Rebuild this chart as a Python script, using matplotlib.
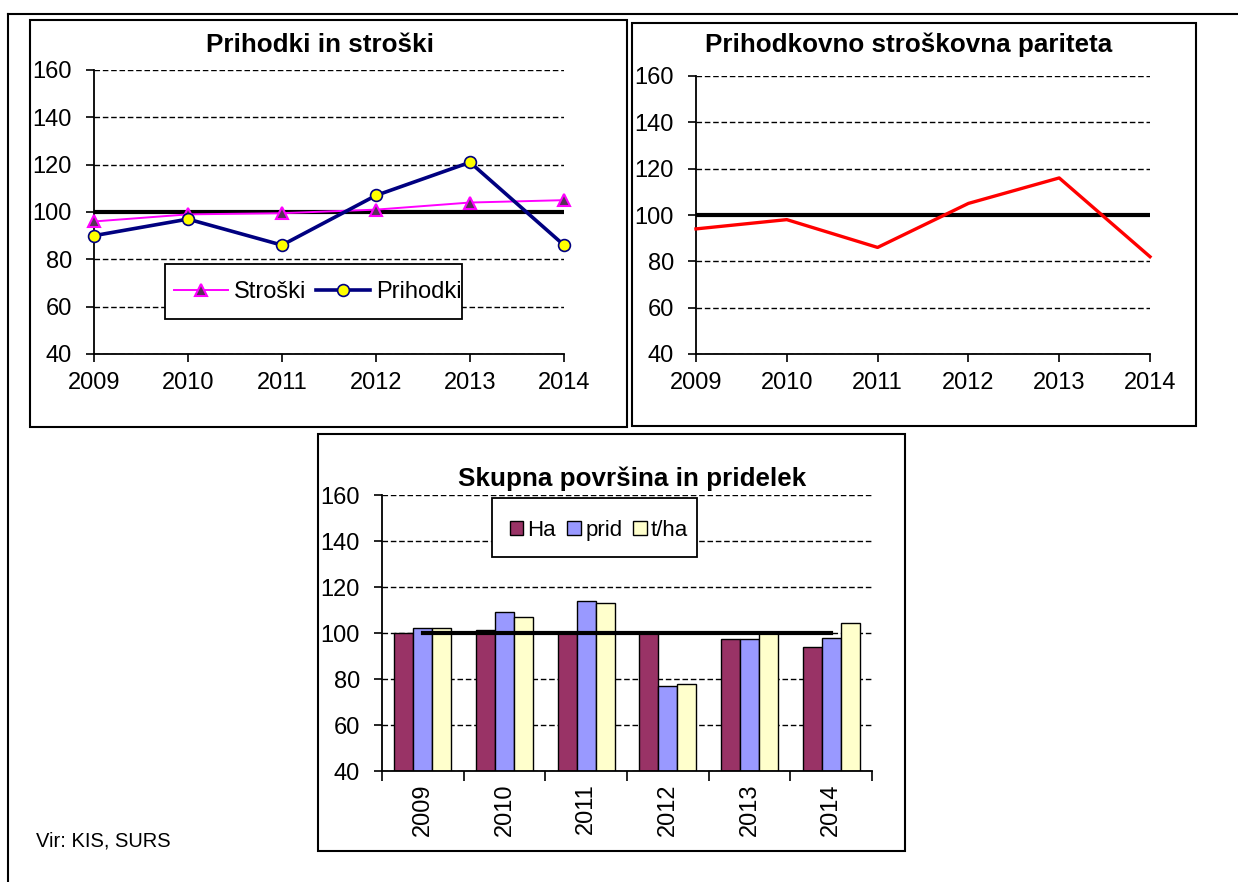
import matplotlib
matplotlib.use('Agg')
import matplotlib.pyplot as plt
from matplotlib.patches import Rectangle
from matplotlib.lines import Line2D
import numpy as np

plt.rcParams['font.family'] = ['Liberation Sans', 'DejaVu Sans']

# data
years = [2009, 2010, 2011, 2012, 2013, 2014]
stroski = [96, 99, 99.5, 101, 104, 105]
prihodki = [90, 97, 86, 107, 121, 86]
pariteta = [94, 98, 86, 105, 116, 82]
ha = [100, 101.5, 100.5, 100, 97.5, 94]
prid = [102, 109, 114, 77, 97.5, 98]
t_ha = [102, 107, 113, 78, 100, 104.5]
base = [100] * len(years)

W, H = 1238, 882
fig = plt.figure(figsize=(W / 100, H / 100), dpi=100)


def box(l, t, r, b):
    # pixel box -> figure fraction [left, bottom, width, height]
    return [l / W, 1 - b / H, (r - l) / W, (b - t) / H]


def frame(l, t, r, b, lw=1.5):
    x0, y0, w, h = box(l, t, r, b)
    fig.add_artist(Rectangle((x0, y0), w, h, transform=fig.transFigure,
                             fill=False, ec='black', lw=lw))


def style(ax):
    ax.set_ylim(40, 160)
    ax.set_yticks(range(40, 161, 20))
    for s in ['top', 'right']:
        ax.spines[s].set_visible(False)
    ax.spines['left'].set_linewidth(1.3)
    ax.spines['bottom'].set_linewidth(1.3)
    ax.yaxis.grid(True, color='black', linestyle=(0, (4, 2)), linewidth=1.0)
    ax.set_axisbelow(True)
    ax.tick_params(axis='y', length=6, width=1.2, pad=10, labelsize=17)
    ax.tick_params(axis='x', length=6, width=1.2, pad=7, labelsize=17)
    ax.patch.set_alpha(0)


def legend_box(ax, x0, y0, w, h):
    ax.add_patch(Rectangle((x0, y0), w, h, transform=ax.transAxes, fc='white',
                           ec='black', lw=1.3, zorder=4.9, clip_on=False))


# outer frame (top and left only)
fig.add_artist(Line2D([8 / W, 1], [1 - 14 / H, 1 - 14 / H], transform=fig.transFigure,
                      color='black', lw=1.5))
fig.add_artist(Line2D([8 / W, 8 / W], [0, 1 - 14 / H], transform=fig.transFigure,
                      color='black', lw=1.5))

frame(30, 20, 627, 427)
frame(632, 23, 1196, 426)
frame(318, 434, 905, 851)

# --- Prihodki in stroški ---
ax1 = fig.add_axes(box(94, 70, 564, 354))
style(ax1)
ax1.set_xlim(2009, 2014)
ax1.set_xticks(years)
ax1.plot(years, base, color='black', lw=3, zorder=2)
ax1.plot(years, stroski, color='#FF00FF', lw=1.4, marker='^', ms=9,
         mfc='#553355', mec='#FF00FF', mew=1.5, label='Stroški', zorder=3, clip_on=False)
ax1.plot(years, prihodki, color='#000080', lw=2.6, marker='o', ms=8.5,
         mfc='#FFFF00', mec='#000080', mew=1.2, label='Prihodki', zorder=4, clip_on=False)
legend_box(ax1, 0.151, 0.123, 0.632, 0.194)
ax1.legend(loc='center', bbox_to_anchor=(0.4766, 0.218), ncol=2, fontsize=17,
           frameon=False, handlelength=2.3, handletextpad=0.25, columnspacing=0.4,
           borderpad=0, borderaxespad=0)
fig.text(320 / W, 1 - 52 / H, 'Prihodki in stroški', ha='center', va='baseline',
         fontsize=18.7, fontweight='bold')

# --- Prihodkovno stroškovna pariteta ---
ax2 = fig.add_axes(box(696, 76, 1150, 354))
style(ax2)
ax2.set_xlim(2009, 2014)
ax2.set_xticks(years)
ax2.plot(years, base, color='black', lw=3, zorder=2)
ax2.plot(years, pariteta, color='#FF0000', lw=2.4, zorder=3, clip_on=False)
fig.text(909 / W, 1 - 52 / H, 'Prihodkovno stroškovna pariteta', ha='center',
         va='baseline', fontsize=18.7, fontweight='bold')

# --- Skupna površina in pridelek ---
ax3 = fig.add_axes(box(382, 495, 872, 771))
style(ax3)
x = np.arange(len(years))
bw = 0.233
ax3.bar(x - bw, [v - 40 for v in ha], bw, bottom=40, color='#993366', ec='black', lw=1, label='Ha')
ax3.bar(x, [v - 40 for v in prid], bw, bottom=40, color='#9999FF', ec='black', lw=1, label='prid')
ax3.bar(x + bw, [v - 40 for v in t_ha], bw, bottom=40, color='#FFFFCC', ec='black', lw=1, label='t/ha')
ax3.plot(x, base, color='black', lw=3, zorder=4)
ax3.set_xlim(-0.5, len(years) - 0.5)
ax3.set_xticks(x)
ax3.set_xticklabels(years, rotation=90)
ax3.set_xticks(np.arange(-0.5, len(years), 1), minor=True)
ax3.tick_params(axis='x', which='major', length=0, pad=9)
ax3.tick_params(axis='x', which='minor', length=7, width=1.2)
legend_box(ax3, 0.2245, 0.775, 0.418, 0.214)
ax3.legend(loc='center', bbox_to_anchor=(0.443, 0.873), ncol=3, fontsize=16,
           frameon=False, handlelength=0.6, handleheight=0.6, handletextpad=0.2,
           columnspacing=0.5, borderpad=0, borderaxespad=0)
fig.text(632 / W, 1 - 486 / H, 'Skupna površina in pridelek', ha='center',
         va='baseline', fontsize=18.7, fontweight='bold')

fig.text(36 / W, 1 - 841 / H, 'Vir: KIS, SURS', ha='left', va='center', fontsize=14.5)

fig.savefig('out.png', dpi=100)
